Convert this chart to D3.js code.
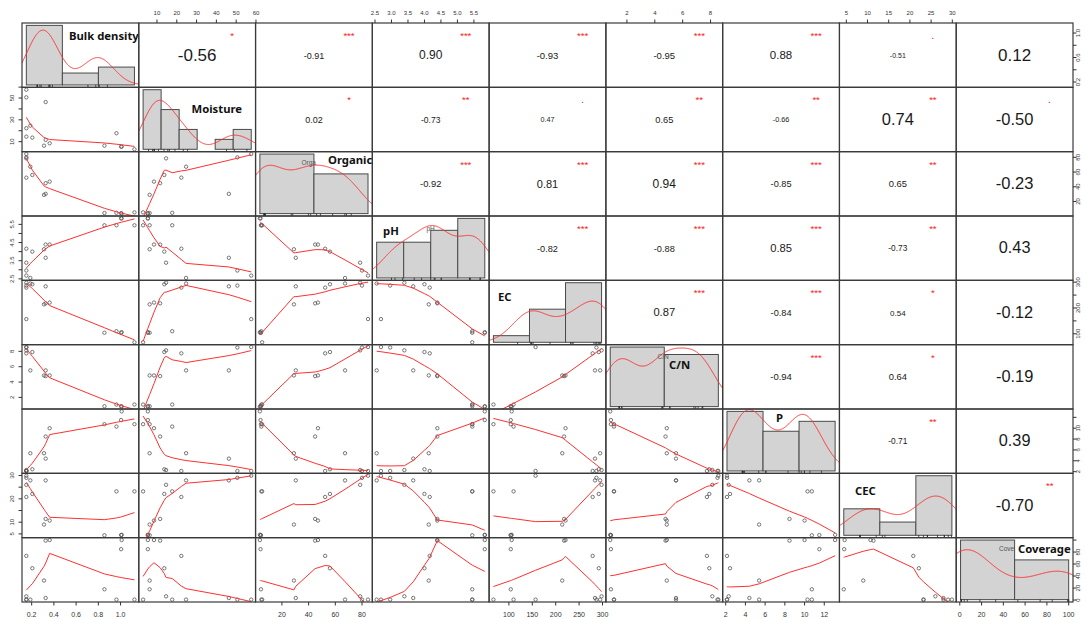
<!DOCTYPE html>
<html><head><meta charset="utf-8">
<script src="https://cdn.jsdelivr.net/npm/d3@7"></script>
<style>body{margin:0;background:#fff}svg{display:block}</style>
</head><body>
<svg id="chart" width="1086" height="619"></svg>
<script>
// ---------- DATA ----------
const variables = ["Bulk density","Moisture","Organic","pH","EC","C/N","P","CEC","Coverage"];
const bulkDensity = [0.152,0.152,0.326,0.152,0.188,0.152,0.206,0.326,0.311,0.362,0.963,0.855,1.005,1.010,1.125];
const moisture    = [57.6,50.6,46.3,22.3,24.7,14.6,13.7,11.6,6.3,8.5,17.7,6.3,5.4,5.4,3.0];
const organic     = [84.5,80.0,30.4,52.4,67.3,78.6,56.0,44.9,29.0,47.0,4.6,4.3,4.0,3.5,5.2];
const phValues    = [2.68,2.96,3.66,4.16,2.55,3.39,4.00,4.39,4.13,4.39,5.45,5.45,5.83,5.83,5.45];
const ecValues    = [157,287,284,279,295,298,292,218,214,221,110,104,104,106,67];
const cnValues    = [8.56,8.50,5.52,7.74,5.52,8.13,7.91,4.77,4.86,4.86,1.07,0.85,0.85,0.80,1.07];
const pValues     = [2.13,2.13,4.40,2.13,5.39,2.30,2.44,8.47,5.39,10.0,10.3,10.74,11.5,13.1,10.74];
const cecValues   = [29.9,29.0,27.9,20.8,27.9,26.0,22.1,11.4,9.0,10.7,23.2,4.4,4.5,4.6,23.2];
const coverage    = [0.7,0.7,3.4,73.6,0.7,6.2,53.0,99.0,32.5,100,0.7,17.9,84.8,100,0.7];

const histBreaks = [[0,0.5,1,1.5],[0,10,20,30,40,50,60],[0,50,100],[2,3,4,5,6],[0,100,200,300],[0,5,10],[0,5,10,15],[0,10,20,30],[0,50,100]];

// upper triangle, row-major
const corValues = ["-0.56","-0.91","0.90","-0.93","-0.95","0.88","-0.51","0.12",
  "0.02","-0.73","0.47","0.65","-0.66","0.74","-0.50",
  "-0.92","0.81","0.94","-0.85","0.65","-0.23",
  "-0.82","-0.88","0.85","-0.73","0.43",
  "0.87","-0.84","0.54","-0.12",
  "-0.94","0.64","-0.19",
  "-0.71","0.39",
  "-0.70"];
const corStars = ["*","***","***","***","***","***",".","",
  "*","**",".","**","**","**",".",
  "***","***","***","***","**","",
  "***","***","***","**","",
  "***","***","*","",
  "***","*","",
  "**","",
  "**"];

const axisTicks = [[0.2,0.4,0.6,0.8,1.0],[10,20,30,40,50,60],[20,40,60,80],[2.5,3,3.5,4,4.5,5,5.5],
  [100,150,200,250,300],[2,4,6,8],[2,4,6,8,10,12],[5,10,15,20,25,30],[0,20,40,60,80,100]];
const hTickLabels = [["0.2","0.4","0.6","0.8","1.0"],["10","20","30","40","50","60"],["20","40","60","80"],
  ["2.5","3.0","3.5","4.0","4.5","5.0","5.5"],["100","150","200","250","300"],["2","4","6","8"],
  ["2","4","6","8","10","12"],["5","10","15","20","25","30"],["0","20","40","60","80","100"]];
const vTickLabels = [["0.2","","0.6","","1.0"],["10","","30","","50",""],["20","40","60","80"],
  ["2.5","","3.5","","4.5","","5.5"],["100","","200","","300"],["2","4","6","8"],
  ["2","4","6","8","10",""],["5","10","","20","","30"],["0","20","40","60","80",""]];

// ---------- STYLE ----------
const corFontSize = [17,9,12,9.5,9.5,11.5,7,17, 9,8.5,7.2,9.3,7.3,16.5,16.5, 9.4,11,12,9.2,9.4,16.5,
  9.2,9.2,11.2,8.3,16.3, 11.2,9.2,8,16.3, 9.5,9.4,16.4, 8.4,16.3, 16.5];
const labelPos = [[69,40],[191.5,112.5],[328,164],[383,235],[498,300.5],[669,369],[776,422],[855,495],[1018,552.5]];
const ghostLabels = [[2,"Orga",301.5,165],[3,"pH",426.5,230.5],[5,"C/N",657.5,358.5],[8,"Cove",999,551]];

const svg = d3.select("#chart");
const L=22, R=1073, T=23, B=602, N=9;
const cw=(R-L)/N, ch=(B-T)/N;
const series=[bulkDensity,moisture,organic,phValues,ecValues,cnValues,pValues,cecValues,coverage];

const xS = series.map((v,k)=>{const e=d3.extent(v),p=0.04*(e[1]-e[0]);
  return d3.scaleLinear().domain([e[0]-p,e[1]+p]).range([L+k*cw,L+(k+1)*cw]);});
const yS = series.map((v,k)=>{const e=d3.extent(v),p=0.04*(e[1]-e[0]);
  return d3.scaleLinear().domain([e[0]-p,e[1]+p]).range([T+(k+1)*ch,T+k*ch]);});

// R lowess port
function lowess(xin, yin, f=2/3, nsteps=3){
  const n=xin.length;
  const o=d3.range(n).sort((a,b)=>xin[a]-xin[b]||a-b);
  const x=[0,...o.map(i=>xin[i])], y=[0,...o.map(i=>yin[i])];
  const ys=new Array(n+1).fill(0), rw=new Array(n+1).fill(1), res=new Array(n+1).fill(0);
  const delta=0.01*(x[n]-x[1]);
  const ns=Math.max(2,Math.min(n,Math.floor(f*n+1e-7)));
  const cube=t=>t*t*t;
  function lowest(xs,nleft,nright,userw,w){
    const range=x[n]-x[1];
    const h=Math.max(xs-x[nleft],x[nright]-xs);
    const h9=0.999*h,h1=0.001*h;
    let a=0,j=nleft;
    while(j<=n){
      w[j]=0; const r=Math.abs(x[j]-xs);
      if(r<=h9){ w[j]= r<=h1?1:cube(1-cube(r/h)); if(userw) w[j]*=rw[j]; a+=w[j]; }
      else if(x[j]>xs) break;
      j++;
    }
    const nrt=j-1;
    if(a<=0) return null;
    for(j=nleft;j<=nrt;j++) w[j]/=a;
    if(h>0){
      a=0; for(j=nleft;j<=nrt;j++) a+=w[j]*x[j];
      let b=xs-a,c=0;
      for(j=nleft;j<=nrt;j++) c+=w[j]*(x[j]-a)*(x[j]-a);
      if(Math.sqrt(c)>0.001*range){ b/=c; for(j=nleft;j<=nrt;j++) w[j]*=(b*(x[j]-a)+1); }
    }
    let s=0; for(j=nleft;j<=nrt;j++) s+=w[j]*y[j];
    return s;
  }
  let iter=1;
  while(iter<=nsteps+1){
    let nleft=1,nright=ns,last=0,i=1;
    const w=new Array(n+1).fill(0);
    for(;;){
      if(nright<n){
        const d1=x[i]-x[nleft], d2=x[nright+1]-x[i];
        if(d1>d2){nleft++;nright++;continue;}
      }
      const v=lowest(x[i],nleft,nright,iter>1,w);
      ys[i]= v===null? y[i] : v;
      if(last<i-1){
        const denom=x[i]-x[last];
        for(let j=last+1;j<i;j++){const al=(x[j]-x[last])/denom; ys[j]=al*ys[i]+(1-al)*ys[last];}
      }
      last=i;
      const cut=x[last]+delta;
      for(i=last+1;i<=n;i++){
        if(x[i]>cut) break;
        if(x[i]===x[last]){ys[i]=ys[last];last=i;}
      }
      i=Math.max(last+1,i-1);
      if(last>=n) break;
    }
    for(let k=1;k<=n;k++) res[k]=y[k]-ys[k];
    let sc=0; for(let k=1;k<=n;k++) sc+=Math.abs(res[k]); sc/=n;
    if(iter>nsteps) break;
    const ar=[]; for(let k=1;k<=n;k++) ar.push(Math.abs(res[k]));
    ar.sort((a,b)=>a-b);
    const m1=Math.floor(n/2);
    const cmad = n%2===0 ? 3*(ar[m1]+ar[n-m1-1]) : 6*ar[m1];
    if(cmad<1e-7*sc) break;
    const c9=0.999*cmad,c1=0.001*cmad;
    for(let k=1;k<=n;k++){const r=Math.abs(res[k]); rw[k]= r<=c1?1:(r<=c9?Math.pow(1-Math.pow(r/cmad,2),2):0);}
    iter++;
  }
  return d3.range(1,n+1).map(k=>[x[k],ys[k]]);
}

function kde(vals){
  const n=vals.length, sd=d3.deviation(vals);
  const iqr=d3.quantile(vals,0.75)-d3.quantile(vals,0.25);
  let lo=Math.min(sd,iqr/1.34); if(!(lo>0)) lo=sd||1;
  const bw=0.9*lo*Math.pow(n,-0.2);
  const a=d3.min(vals)-3*bw, b=d3.max(vals)+3*bw;
  return d3.range(512).map(k=>{const x=a+(b-a)*k/511;
    return [x, d3.sum(vals,v=>Math.exp(-0.5*((x-v)/bw)**2))/(n*bw*Math.sqrt(2*Math.PI))];});
}

const defs=svg.append("defs");
const content=svg.append("g");

for(let i=0;i<N;i++){
  for(let j=0;j<N;j++){
    const px=L+j*cw, py=T+i*ch;
    const cid=`clip${i}_${j}`;
    defs.append("clipPath").attr("id",cid).append("rect").attr("x",px).attr("y",py).attr("width",cw).attr("height",ch);
    if(i>j){
      const g=content.append("g").attr("clip-path",`url(#${cid})`);
      const xv=series[j], yv=series[i];
      g.selectAll("circle").data(xv.map((d,k)=>[d,yv[k]])).join("circle")
        .attr("cx",d=>xS[j](d[0])).attr("cy",d=>yS[i](d[1])).attr("r",1.7)
        .attr("fill","none").attr("stroke","#555").attr("stroke-width",0.8);
      const lw=lowess(xv,yv);
      g.append("path").attr("d",d3.line().x(d=>xS[j](d[0])).y(d=>yS[i](d[1]))(lw))
        .attr("fill","none").attr("stroke","#ff3030").attr("stroke-width",1);
    } else if(i<j){
      let idx=0; for(let r=0;r<i;r++) idx+=N-1-r; idx+=j-i-1;
      content.append("text").attr("x",px+cw/2).attr("y",py+ch/2+1)
        .attr("text-anchor","middle").attr("dominant-baseline","middle")
        .attr("font-family","Liberation Sans, Arial, sans-serif").attr("font-size",corFontSize[idx])
        .attr("fill","#1a1a1a").text(corValues[idx]);
      if(corStars[idx]) content.append("text").attr("x",px+0.8*cw).attr("y",py+0.2*ch+3)
        .attr("text-anchor","middle").attr("font-family","Liberation Sans, Arial, sans-serif")
        .attr("font-size",corStars[idx]==="."?11:9.5).attr("fill","#ff2020").text(corStars[idx]);
    } else {
      const k=i, v=series[k], br=histBreaks[k];
      const g=content.append("g").attr("clip-path",`url(#${cid})`);
      const counts=br.slice(1).map((b,q)=>v.filter(x=>(q===0?x>=br[0]:x>br[q])&&x<=b).length);
      const dens=counts.map((c,q)=>c/(v.length*(br[q+1]-br[q])));
      const span=br[br.length-1]-br[0];
      const hx=d3.scaleLinear().domain([br[0]-0.04*span,br[br.length-1]+0.04*span]).range([px,px+cw]);
      const md=d3.max(dens);
      const hy=d3.scaleLinear().domain([-0.04*md,1.04*md]).range([py+ch,py]);
      g.selectAll("rect.bar").data(dens).join("rect").attr("class","bar")
        .attr("x",(d,q)=>hx(br[q])).attr("width",(d,q)=>hx(br[q+1])-hx(br[q]))
        .attr("y",d=>hy(d)).attr("height",d=>hy(0)-hy(d))
        .attr("fill","#d3d3d3").attr("stroke","#4a4a4a").attr("stroke-width",1);
      g.append("path").attr("d",d3.line().x(d=>hx(d[0])).y(d=>hy(d[1]))(kde(v)))
        .attr("fill","none").attr("stroke","#ff3030").attr("stroke-width",1);
      g.selectAll("line.rug").data(v).join("line").attr("class","rug")
        .attr("x1",d=>hx(d)).attr("x2",d=>hx(d)).attr("y1",py+ch).attr("y2",py+ch-2.5)
        .attr("stroke","#222").attr("stroke-width",0.8);
    }
  }
}

ghostLabels.forEach(([k,t,x,y])=>{
  content.append("text").attr("x",x).attr("y",y).attr("font-family","Liberation Sans, Arial, sans-serif")
    .attr("font-size",6.5).attr("fill","#555").text(t);
});
variables.forEach((name,k)=>{
  content.append("text").attr("x",labelPos[k][0]).attr("y",labelPos[k][1])
    .attr("font-family","Noto Sans, sans-serif").attr("font-weight","bold").attr("font-size",11.3)
    .attr("fill","#111").text(name);
});

const borders=svg.append("g");
for(let i=0;i<N;i++) for(let j=0;j<N;j++)
  borders.append("rect").attr("x",L+j*cw).attr("y",T+i*ch).attr("width",cw).attr("height",ch)
    .attr("fill","none").attr("stroke","#3a3a3a").attr("stroke-width",1.2);

const ax=svg.append("g").attr("font-family","Liberation Sans, Arial, sans-serif").attr("fill","#333");
for(let k=0;k<N;k++){
  const ticks=axisTicks[k];
  const top=(k%2===1);
  ticks.forEach((t,q)=>{
    const x=xS[k](t);
    if(top){
      ax.append("line").attr("x1",x).attr("x2",x).attr("y1",T).attr("y2",T-3.5).attr("stroke","#333");
      ax.append("text").attr("x",x).attr("y",15).attr("text-anchor","middle").attr("font-size",6).text(hTickLabels[k][q]);
    } else {
      ax.append("line").attr("x1",x).attr("x2",x).attr("y1",B).attr("y2",B+3.5).attr("stroke","#333");
      ax.append("text").attr("x",x).attr("y",616.5).attr("text-anchor","middle").attr("font-size",7).text(hTickLabels[k][q]);
    }
    const y=yS[k](t);
    const left=(k%2===1);
    if(left){
      ax.append("line").attr("x1",L).attr("x2",L-3.5).attr("y1",y).attr("y2",y).attr("stroke","#333");
      if(vTickLabels[k][q]) ax.append("text").attr("transform",`translate(13.5,${y}) rotate(-90)`)
        .attr("text-anchor","middle").attr("font-size",6).text(vTickLabels[k][q]);
    } else {
      ax.append("line").attr("x1",R).attr("x2",R+3.5).attr("y1",y).attr("y2",y).attr("stroke","#333");
      if(vTickLabels[k][q]) ax.append("text").attr("transform",`translate(1080,${y}) rotate(-90)`)
        .attr("text-anchor","middle").attr("font-size",6).text(vTickLabels[k][q]);
    }
  });
}
</script>
</body></html>
